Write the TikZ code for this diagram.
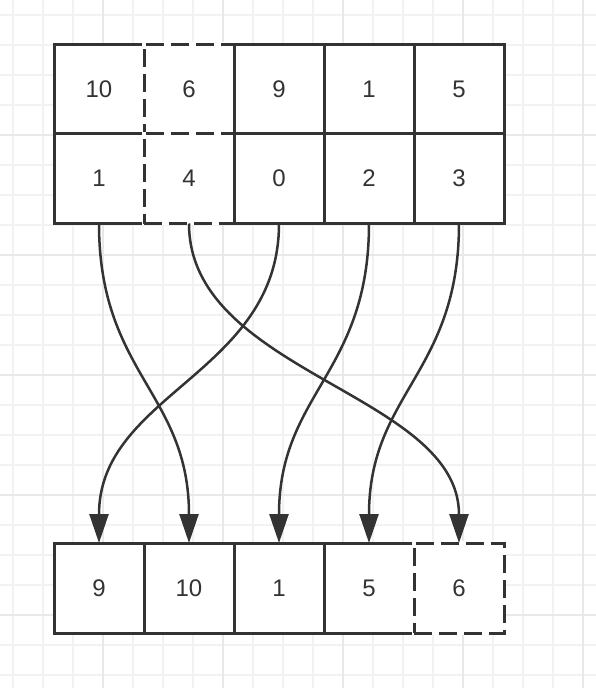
\documentclass[tikz,border=0pt]{standalone}
\usepackage{fontspec}
\setmainfont{Liberation Sans}
\usetikzlibrary{arrows.meta}
\definecolor{ink}{HTML}{333333}
\definecolor{gridminor}{HTML}{F2F2F2}
\definecolor{gridmajor}{HTML}{E8E8E8}
\begin{document}
\begin{tikzpicture}[x=1pt,y=-1pt,
  cell/.style={draw=ink, line width=3pt, fill=white, minimum width=90pt, minimum height=90pt,
    inner sep=0pt, outer sep=0pt, text=ink, font=\fontsize{24}{24}\selectfont},
  dcell/.style={cell, dash pattern=on 18pt off 7pt, preaction={draw=white, solid, line width=3.4pt}},
  link/.style={draw=ink, line width=2.5pt, -{Triangle[length=29pt,width=19pt]}},
  gmin/.style={draw=gridminor, line width=1.5pt},
  gmaj/.style={draw=gridmajor, line width=1.8pt}]
\useasboundingbox (0,0) rectangle (596,688);
\fill[white] (0,0) rectangle (596,688);
% grid
\foreach \x in {13,43,...,583} \draw[gmin] (\x,0) -- (\x,688);
\foreach \y in {15,45,...,675} \draw[gmin] (0,\y) -- (596,\y);
\foreach \x in {103,223,343,463,583} \draw[gmaj] (\x,0) -- (\x,688);
\foreach \y in {135,255,375,495,615} \draw[gmaj] (0,\y) -- (596,\y);
% top table
\node[cell] (a1) at (99,89) {10};
\node[cell] (b1) at (99,178.5) {1};
\node[dcell] (a2) at (189,89) {6};
\node[dcell] (b2) at (189,178.5) {4};
\node[cell] (a3) at (279,89) {9};
\node[cell] (b3) at (279,178.5) {0};
\node[cell] (a4) at (369,89) {1};
\node[cell] (b4) at (369,178.5) {2};
\node[cell] (a5) at (459,89) {5};
\node[cell] (b5) at (459,178.5) {3};
% bottom row
\node[cell] (c1) at (99,588) {9};
\node[cell] (c2) at (189,588) {10};
\node[cell] (c3) at (279,588) {1};
\node[cell] (c4) at (369,588) {5};
\node[dcell] (c5) at (459,588) {6};
% links
\draw[link] (b1.south) .. controls +(0,150) and +(0,-150) .. (c2.north);
\draw[link] (b2.south) .. controls +(0,150) and +(0,-150) .. (c5.north);
\draw[link] (b3.south) .. controls +(0,150) and +(0,-150) .. (c1.north);
\draw[link] (b4.south) .. controls +(0,150) and +(0,-150) .. (c3.north);
\draw[link] (b5.south) .. controls +(0,150) and +(0,-150) .. (c4.north);
\end{tikzpicture}
\end{document}
